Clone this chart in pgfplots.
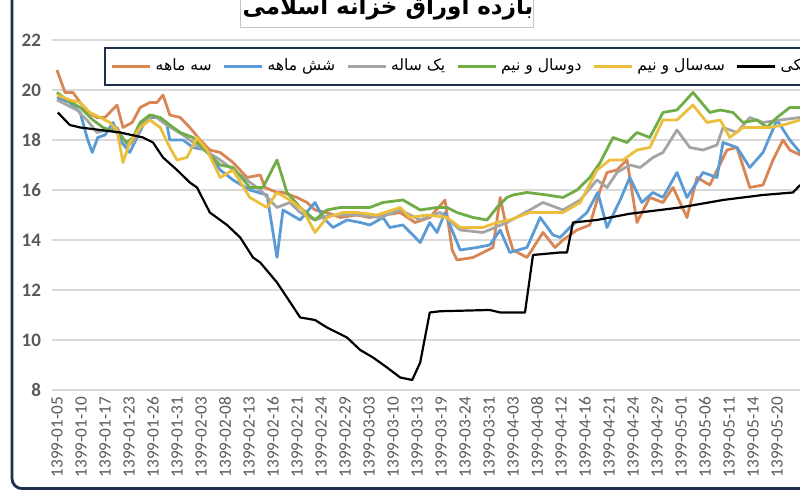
\documentclass[border=0pt]{standalone}
\usepackage{fontspec}
\setmainfont{Carlito}
\newfontfamily\fa[Script=Arabic]{DejaVu Sans}
\TeXXeTstate=1
\usepackage{pgfplots}
\pgfplotsset{compat=1.18}

\definecolor{cOrange}{RGB}{218,133,84}
\definecolor{cBlue}{RGB}{91,155,213}
\definecolor{cGray}{RGB}{165,165,165}
\definecolor{cGreen}{RGB}{112,173,71}
\definecolor{cYellow}{RGB}{235,190,60}
\definecolor{navy}{RGB}{31,45,78}
\definecolor{gridgray}{RGB}{217,217,217}
\definecolor{labgray}{RGB}{89,89,89}

\begin{document}
\begin{tikzpicture}
% frame of the chart area (cut by the page edge)
\draw[navy, line width=1.4pt, rounded corners=5pt] (6pt,0.7pt) rectangle (440pt,280pt);

\begin{axis}[
    at={(26pt,50pt)}, anchor=south west,
    x=4pt, y=12.5pt,
    xmin=-0.625, xmax=92.9, ymin=8, ymax=22,
    axis line style={draw=none},
    major tick length=0pt,
    ytick={8,10,...,22},
    ymajorgrids=true,
    grid style={color=gridgray, line width=0.8pt},
    xtick={0,3,...,90},
    xticklabels={1399-01-05,1399-01-10,1399-01-17,1399-01-23,1399-01-26,1399-01-31,
        1399-02-03,1399-02-08,1399-02-13,1399-02-16,1399-02-21,1399-02-24,1399-02-29,
        1399-03-03,1399-03-10,1399-03-13,1399-03-19,1399-03-24,1399-03-31,
        1399-04-03,1399-04-08,1399-04-12,1399-04-16,1399-04-21,1399-04-24,1399-04-29,
        1399-05-01,1399-05-06,1399-05-11,1399-05-14,1399-05-20},
    xticklabel style={rotate=90, anchor=east, color=labgray,
        font=\fontsize{8.6}{10}\selectfont},
    yticklabel style={color=labgray, xshift=-2pt,
        font=\bfseries\fontsize{9.5}{11}\selectfont},
    /pgf/number format/assume math mode=true,
    legend columns=-1,
    legend style={at={(0.0695,0.98)}, anchor=north west,
        draw=navy, line width=0.9pt, fill=white,
        inner ysep=3.5pt, inner xsep=3pt,
        font=\fa\fontsize{7.8}{10}\selectfont,
        /tikz/every even column/.append style={column sep=3.5pt}},
    legend image code/.code={\draw[#1, line width=1.4pt] (0pt,0pt) -- (19pt,0pt);},
    every axis plot/.append style={line width=1.4pt, line join=round},
]
% three-month
\addplot[cOrange] coordinates {
(0,20.8) (1,19.9) (2,19.9) (2.9,19.5) (3.9,19.1) (5,18.9) (6,18.9) (7.5,19.4)
(8.25,18.5) (9.4,18.7) (10.4,19.3) (11.6,19.5) (12.5,19.5) (13.25,19.8) (14.1,19.0)
(15.4,18.9) (16.6,18.5) (17.9,18.0) (19.1,17.6) (20.4,17.5) (22,17.1) (23.75,16.5)
(25.4,16.6) (26,16.1) (27.5,15.9) (28.25,15.9) (30,15.7) (31.25,15.5) (32.25,15.2)
(33.75,15.1) (35.4,14.9) (37.5,15.0) (39.1,14.9) (41,15.0) (42.9,15.1) (44.75,14.7)
(46.6,14.9) (48.5,15.6) (49.4,13.6) (50,13.2) (52,13.3) (54.5,13.7) (55.4,15.7)
(56.25,14.4) (57,13.6) (58.75,13.3) (60.75,14.3) (62.25,13.7) (63.25,14.0) (65,14.4)
(66.6,14.6) (67.9,16.0) (68.75,16.7) (70,16.8) (71.25,17.2) (72.5,14.7) (74.1,15.7)
(75.75,15.5) (77,16.1) (78.75,14.9) (80,16.5) (81.6,16.2) (83.75,17.6) (85,17.7)
(86.6,16.1) (88.25,16.2) (89.5,17.2) (90.75,18.0) (91.6,17.6) (92.9,17.4)
};
\addlegendentry{\beginR سه ماهه\endR}
% six-month
\addplot[cBlue] coordinates {
(0,19.7) (1.6,19.5) (2.9,19.1) (3.75,18.1) (4.4,17.5) (5.1,18.1) (6,18.2) (7,18.7)
(8.1,17.9) (9.1,17.5) (10,18.1) (11.25,18.9) (12.5,18.9) (13.75,18.6) (14.1,18.0)
(15.75,18.0) (17,17.7) (18.75,17.6) (20.4,16.8) (22,16.4) (24.1,16.0) (26.25,15.8)
(27.5,13.3) (28.25,15.2) (30.4,14.8) (32.25,15.5) (33.25,14.9) (34.5,14.5) (36.25,14.8)
(37.9,14.7) (39.1,14.6) (40.75,14.9) (41.6,14.5) (43.25,14.6) (45.4,13.9) (46.6,14.7)
(47.5,14.3) (48.5,15.1) (49.5,14.3) (50.4,13.6) (52.5,13.7) (54.1,13.8) (55.4,14.4)
(56.6,13.5) (58.75,13.7) (60.4,14.9) (62,14.2) (62.9,14.1) (64.1,14.5) (66.25,15.1)
(67.6,15.9) (68.75,14.5) (70.4,15.6) (71.6,16.5) (73.1,15.5) (74.5,15.9) (75.75,15.7)
(77.5,16.7) (78.75,15.7) (80.75,16.7) (82.5,16.5) (83.25,17.9) (85,17.7) (86.6,16.9)
(88.25,17.5) (90,18.8) (91.6,18.0) (92.9,17.5)
};
\addlegendentry{\beginR شش ماهه\endR}
% one-year
\addplot[cGray] coordinates {
(0,19.6) (2.5,19.2) (3.75,18.8) (5,18.3) (7.5,18.5) (8.75,17.8) (9.5,17.9) (10.75,18.7)
(12,19.0) (13.75,18.6) (15.75,18.2) (17.9,17.7) (20.4,17.2) (22.9,16.6) (25.4,16.0)
(26.6,15.6) (27.5,15.3) (29.1,15.5) (30.4,15.1) (32.25,14.8) (34.1,15.0) (36,15.0)
(37.9,15.0) (40.4,14.9) (42.9,15.2) (45.4,14.8) (47.9,15.1) (50.4,14.4) (53.25,14.3)
(56.25,14.7) (59.1,15.2) (60.75,15.5) (63.25,15.2) (65.4,15.6) (67.5,16.4) (68.75,16.1)
(70,16.7) (71.6,17.0) (72.9,16.9) (74.5,17.3) (75.75,17.5) (77.5,18.4) (79.1,17.7)
(80.75,17.6) (82.5,17.8) (83.25,18.5) (85,18.3) (86.6,18.9) (88.25,18.7) (90.4,18.8)
(92.9,18.9)
};
\addlegendentry{\beginR یک ساله\endR}
% two and a half years
\addplot[cGreen] coordinates {
(0,19.9) (1.25,19.6) (2.9,19.3) (4.5,18.8) (5.75,18.5) (7.5,18.3) (8.75,17.9) (9.5,18.1)
(10.4,18.7) (11.6,19.0) (12.9,18.9) (14.1,18.6) (15.4,18.3) (17,18.1) (18.75,17.5)
(20.4,17.0) (22,16.9) (24.1,16.1) (25.75,16.1) (27.5,17.2) (28.75,15.9) (30.4,15.3)
(32.25,14.8) (33.75,15.2) (35.4,15.3) (37.5,15.3) (39.1,15.3) (40.75,15.5) (43.25,15.6)
(45.4,15.2) (47.5,15.3) (48.75,15.3) (50,15.1) (52,14.9) (53.75,14.8) (55,15.3)
(56.25,15.7) (57,15.8) (58.75,15.9) (61.25,15.8) (63.25,15.7) (65,16.0) (66.6,16.5)
(67.9,17.1) (69.5,18.1) (71.25,17.9) (72.5,18.3) (74.1,18.1) (75.75,19.1) (77.5,19.2)
(79.5,19.9) (81.6,19.1) (82.9,19.2) (84.5,19.1) (85.75,18.7) (87.5,18.8) (88.75,18.5)
(90,18.9) (91.6,19.3) (92.9,19.3)
};
\addlegendentry{\beginR دوسال و نیم\endR}
% three and a half years
\addplot[cYellow] coordinates {
(0,19.8) (1.6,19.6) (2.9,19.5) (4.1,19.1) (5.4,18.9) (6.6,18.7) (7.5,18.4) (8.25,17.1)
(9.1,17.9) (10.4,18.5) (11.6,18.8) (12.9,18.5) (14.1,17.7) (15,17.2) (16.25,17.3)
(17.5,18.1) (18.75,17.6) (20.4,16.5) (22,16.8) (24.1,15.7) (26.25,15.3) (27.5,15.9)
(29.1,15.6) (30.75,15.2) (32.25,14.3) (33.75,14.9) (35.75,15.1) (37.5,15.1) (40,15.0)
(42.9,15.3) (44.1,14.9) (46.25,15.0) (48.75,14.9) (50.4,14.5) (53.25,14.5) (55,14.7)
(56.6,14.8) (59.1,15.1) (61.25,15.1) (63.25,15.1) (65.4,15.5) (67.5,16.8) (69.1,17.2)
(70.75,17.2) (72.5,17.6) (74.1,17.7) (75.75,18.8) (77.5,18.8) (79.5,19.4) (81.25,18.7)
(82.9,18.8) (84.1,18.1) (85.75,18.5) (87.9,18.5) (89.1,18.5) (90.75,18.6) (92.9,18.8)
};
\addlegendentry{\beginR سه‌سال و نیم\endR}
% interbank rate
\addplot[black, line width=1.1pt] coordinates {
(0.1,19.1) (1.6,18.6) (2.9,18.5) (5.4,18.4) (7.9,18.3) (10.75,18.1) (12,17.9)
(13.25,17.3) (15,16.8) (16.6,16.3) (17.5,16.1) (19.1,15.1) (21.25,14.6) (22.9,14.1)
(24.5,13.3) (25.4,13.1) (27.5,12.3) (28.75,11.7) (30.4,10.9) (32.25,10.8) (33.75,10.5)
(36.25,10.1) (37.9,9.6) (39.5,9.3) (41.25,8.9) (42.9,8.5) (44.4,8.4) (45.4,9.1)
(46.6,11.1) (47.9,11.15) (54.1,11.2) (55.4,11.1) (58.5,11.1) (59.5,13.4) (62.9,13.5)
(63.75,13.5) (64.5,14.7) (67.5,14.8) (71.6,15.05) (77.9,15.3) (83.25,15.6) (88.25,15.8)
(92,15.9) (92.9,16.2)
};
\addlegendentry{\beginR نرخ بهره بین بانکی\endR}
\end{axis}

% title box (cut by the top edge)
\draw[gray!45, fill=white] (120pt,231.5pt) rectangle (266.5pt,262pt);
\node[anchor=base] at (194pt,237.5pt)
    {\fa\bfseries\fontsize{11.5}{14}\selectfont\beginR بازده اوراق خزانه اسلامی\endR};

\pgfresetboundingbox
\path[use as bounding box] (0pt,0pt) rectangle (400pt,245pt);
\end{tikzpicture}
\end{document}
